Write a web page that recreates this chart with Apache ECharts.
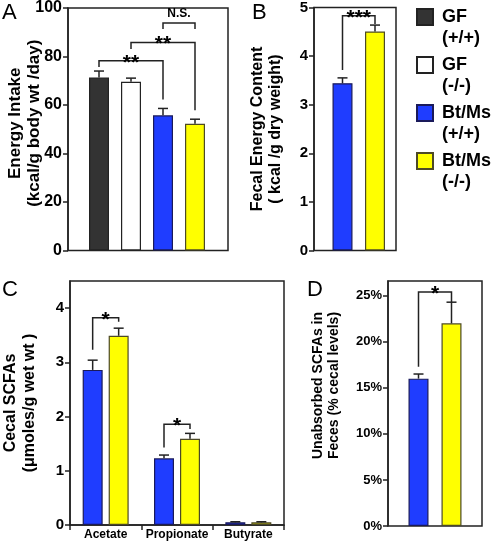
<!DOCTYPE html>
<html><head><meta charset="utf-8">
<script src="https://cdn.jsdelivr.net/npm/echarts@6/dist/echarts.min.js"></script>
<style>html,body{margin:0;padding:0;background:#fff}#c{width:492px;height:542px}</style>
</head><body><div id="c"></div>
<script>
// ---- data ----
const groups = ['GF (+/+)', 'GF (-/-)', 'Bt/Ms (+/+)', 'Bt/Ms (-/-)'];
const intakeMean = [70.8, 69.0, 55.3, 51.8];
const intakeErr = [2.6, 1.5, 2.8, 1.9];
const fecalGroups = ['Bt/Ms (+/+)', 'Bt/Ms (-/-)'];
const fecalMean = [3.42, 4.48];
const fecalErr = [0.11, 0.13];
const scfaTypes = ['Acetate', 'Propionate', 'Butyrate'];
const cecalWT = [2.86, 1.23, 0.05];
const cecalWTErr = [0.18, 0.06, 0.01];
const cecalKO = [3.49, 1.59, 0.05];
const cecalKOErr = [0.14, 0.10, 0.01];
const unabsMean = [0.16, 0.22];
const unabsErr = [0.005, 0.023];
// axis ranges [min, max, interval]
const rangeA = [0, 100, 20];
const rangeB = [0, 5, 1];
const rangeC = [0, 4.5, 1];
const rangeD = [0, 0.266, 0.05];
// significance brackets: [fromIdx, toIdx, level, fromEnd, toEnd, text]
const sigA = [[0, 2, 77.6, 75.1, 61.8, '**'], [1, 3, 85.1, 82.4, 57.4, '**'], [2, 3, 93.0, 90.6, 90.6, 'N.S.']];
const sigB = [[0, 1, 4.80, 3.69, 4.63, '***']];
const sigC = [[0, 0, 3.82, 3.23, 3.75, '*'], [1, 1, 1.86, 1.43, 1.77, '*']];
const sigD = [[0, 1, 0.254, 0.173, 0.243, '*']];

// ---- styles ----
const FONT = "'Liberation Sans', Arial, sans-serif";
const INK = '#222';
const colors = {
  'GF (+/+)': { color: '#333333', borderColor: '#222' },
  'GF (-/-)': { color: '#ffffff', borderColor: '#222' },
  'Bt/Ms (+/+)': { color: '#1f3dff', borderColor: '#1a1a5a' },
  'Bt/Ms (-/-)': { color: '#ffff00', borderColor: '#4d4a26' }
};
const lineStyle = { color: INK, width: 1.5 };

function visY(gi, r, name, fs, nfs, gap, lh, pad, fmt) {
  return {
    type: 'value', gridIndex: gi, min: r[0], max: r[1], interval: r[2],
    axisLine: { show: true, lineStyle }, axisTick: { show: true, length: 5, lineStyle },
    splitLine: { show: false },
    axisLabel: { color: '#000', fontFamily: FONT, fontWeight: 'bold', fontSize: fs, margin: 6, showMaxLabel: r[1] % r[2] === 0, formatter: fmt },
    name, nameLocation: 'middle', nameRotate: 90, nameGap: gap, nameMoveOverlap: false,
    nameTextStyle: { color: '#000', fontFamily: FONT, fontWeight: 'bold', fontSize: nfs, lineHeight: lh, padding: pad }
  };
}
function hidY(gi, r) { return { type: 'value', gridIndex: gi, min: r[0], max: r[1], show: false, splitLine: { show: false } }; }
function hidXv(gi) { return { type: 'value', gridIndex: gi, min: 0, max: 1, show: false, splitLine: { show: false } }; }
function hidXc(gi, cats) { return { type: 'category', gridIndex: gi, data: cats, show: false }; }

function oneBar(name, xi, yi, cats, val) {
  return {
    type: 'bar', name, xAxisIndex: xi, yAxisIndex: yi, barWidth: 20, barGap: '-100%',
    data: cats.map(c => (c === name ? val : '-')),
    itemStyle: { color: colors[name].color, borderColor: colors[name].borderColor, borderWidth: 1.2 }
  };
}
function errSeries(xi, yi, means, errs, offset) {
  return {
    type: 'custom', xAxisIndex: xi, yAxisIndex: yi, silent: true, z: 5,
    encode: { x: 0, y: [1, 2] },
    data: means.map((m, i) => [i, m, m + errs[i]]),
    renderItem(params, api) {
      const p0 = api.coord([api.value(0), api.value(1)]);
      const p1 = api.coord([api.value(0), api.value(2)]);
      const x = p0[0] + offset;
      return { type: 'group', children: [
        { type: 'line', shape: { x1: x, y1: p0[1], x2: x, y2: p1[1] }, style: { stroke: INK, lineWidth: 1.5 } },
        { type: 'line', shape: { x1: x - 5, y1: p1[1], x2: x + 5, y2: p1[1] }, style: { stroke: INK, lineWidth: 1.5 } }
      ] };
    }
  };
}
function sigSeries(xi, yi, sig, offFrom, offTo) {
  return {
    type: 'custom', xAxisIndex: xi, yAxisIndex: yi, silent: true, z: 6,
    encode: { x: 0, y: 2 },
    data: sig.map(s => s.slice(0, 5)),
    renderItem(params, api) {
      const s = sig[params.dataIndex];
      const a = api.coord([s[0], s[2]]);
      const b = api.coord([s[1], s[2]]);
      const xa = a[0] + offFrom, xb = b[0] + offTo, y = a[1];
      const ya = api.coord([s[0], s[3]])[1];
      const yb = api.coord([s[1], s[4]])[1];
      const isStar = s[5].indexOf('*') >= 0;
      return { type: 'group', children: [
        { type: 'polyline', shape: { points: [[xa, ya], [xa, y], [xb, y], [xb, yb]] }, style: { stroke: INK, lineWidth: 1.5, fill: null } },
        { type: 'text', x: (xa + xb) / 2, y: isStar ? y + 2 : y - 3,
          style: { text: s[5], fill: '#000', font: isStar ? 'bold 21px ' + FONT : 'bold 12px ' + FONT,
                   align: 'center', verticalAlign: isStar ? 'middle' : 'bottom' } }
      ] };
    }
  };
}

const series = [];
groups.forEach((g, i) => series.push(oneBar(g, 1, 1, groups, intakeMean[i])));
series.push(errSeries(1, 1, intakeMean, intakeErr, 0));
series.push(sigSeries(1, 1, sigA, 0, 0));
fecalGroups.forEach((g, i) => series.push(oneBar(g, 3, 3, fecalGroups, fecalMean[i])));
series.push(errSeries(3, 3, fecalMean, fecalErr, 0));
series.push(sigSeries(3, 3, sigB, 0, 0));
series.push({ type: 'bar', name: 'Bt/Ms (+/+)', xAxisIndex: 4, yAxisIndex: 4, barWidth: 20, barGap: '30%', data: cecalWT,
  itemStyle: { color: colors['Bt/Ms (+/+)'].color, borderColor: colors['Bt/Ms (+/+)'].borderColor, borderWidth: 1.2 } });
series.push({ type: 'bar', name: 'Bt/Ms (-/-)', xAxisIndex: 4, yAxisIndex: 4, barWidth: 20, barGap: '30%', data: cecalKO,
  itemStyle: { color: colors['Bt/Ms (-/-)'].color, borderColor: colors['Bt/Ms (-/-)'].borderColor, borderWidth: 1.2 } });
series.push(errSeries(4, 4, cecalWT, cecalWTErr, -13));
series.push(errSeries(4, 4, cecalKO, cecalKOErr, 13));
series.push(sigSeries(4, 4, sigC, -13, 13));
fecalGroups.forEach((g, i) => series.push(oneBar(g, 6, 6, fecalGroups, unabsMean[i])));
series.push(errSeries(6, 6, unabsMean, unabsErr, 0));
series.push(sigSeries(6, 6, sigD, 0, 0));

const frame = { show: true, borderColor: INK, borderWidth: 1.5, backgroundColor: 'transparent' };
const option = {
  animation: false,
  textStyle: { fontFamily: FONT },
  grid: [
    Object.assign({ left: 68, top: 6, width: 160, height: 244.5 }, frame),
    { left: 83, top: 6, width: 128, height: 244.5 },
    Object.assign({ left: 314, top: 6, width: 82, height: 244.5 }, frame),
    { left: 326.25, top: 6, width: 65, height: 244.5 },
    Object.assign({ left: 68, top: 281, width: 216, height: 244 }, frame),
    Object.assign({ left: 388, top: 281, width: 94, height: 245 }, frame),
    { left: 402, top: 281, width: 66, height: 245 }
  ],
  xAxis: [
    hidXv(0), hidXc(1, groups), hidXv(2), hidXc(3, fecalGroups),
    { type: 'category', gridIndex: 4, data: scfaTypes,
      axisLine: { show: true, lineStyle }, axisTick: { show: true, length: 5, lineStyle },
      axisLabel: { color: '#000', fontFamily: FONT, fontWeight: 'bold', fontSize: 12, margin: 4, interval: 0 } },
    hidXv(5), hidXc(6, fecalGroups)
  ],
  yAxis: [
    visY(0, rangeA, 'Energy Intake\n(kcal/g body wt /day)', 16, 17, 24, 19, [0, 0, 0, 12]),
    hidY(1, rangeA),
    visY(2, rangeB, 'Fecal Energy Content\n( kcal /g dry weight)', 15, 16, 29, 18, 0),
    hidY(3, rangeB),
    visY(4, rangeC, 'Cecal SCFAs\n(\u03bcmoles/g wet wt )', 15, 16, 31, 19, 0),
    visY(5, rangeD, 'Unabsorbed SCFAs in\nFeces (% cecal levels)', 13, 14, 46, 16, [0, 0, 0, 36], v => Math.round(v * 100) + '%'),
    hidY(6, rangeD)
  ],
  legend: {
    data: groups, orient: 'vertical', left: 416, top: 5.5, padding: 0,
    icon: 'path://M0,0 M0,2.5 L16,2.5 L16,18.5 L0,18.5 Z M20,42',
    itemWidth: 20, itemHeight: 42, itemGap: 4, selectedMode: false,
    formatter: n => n.replace(' ', '\n'),
    textStyle: { color: '#000', fontFamily: FONT, fontWeight: 'bold', fontSize: 18, lineHeight: 21 }
  },
  graphic: [
    { type: 'text', left: 2, top: 2, style: { text: 'A', font: '22px ' + FONT, fill: '#000' } },
    { type: 'text', left: 252, top: 2, style: { text: 'B', font: '22px ' + FONT, fill: '#000' } },
    { type: 'text', left: 2, top: 279, style: { text: 'C', font: '22px ' + FONT, fill: '#000' } },
    { type: 'text', left: 307, top: 279, style: { text: 'D', font: '22px ' + FONT, fill: '#000' } }
  ],
  series
};
const chart = echarts.init(document.getElementById('c'), null, { renderer: 'canvas' });
chart.setOption(option);
</script></body></html>
